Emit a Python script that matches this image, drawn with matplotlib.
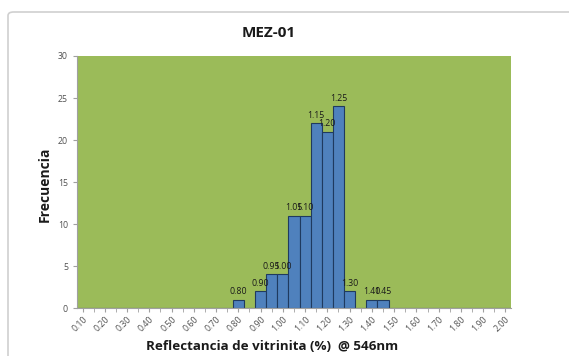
import numpy as np
import matplotlib.pyplot as plt
from matplotlib.patches import FancyBboxPatch

# reflectance classes (%), 0.10 .. 2.00 step 0.05
clases = ['%.2f' % (0.10 + 0.05 * i) for i in range(39)]
# non-zero frequencies by class
conteo = {'0.80': 1, '0.90': 2, '0.95': 4, '1.00': 4, '1.05': 11, '1.10': 11,
          '1.15': 22, '1.20': 21, '1.25': 24, '1.30': 2, '1.40': 1, '1.45': 1}
frecuencia = [conteo.get(c, 0) for c in clases]

plt.rcParams['font.family'] = ['Open Sans', 'DejaVu Sans']

fig = plt.figure(figsize=(5.69, 3.56), dpi=100)
ax = fig.add_axes([0.1353, 0.1348, 0.7627, 0.7079])

# chart frame (light grey rounded box)
marco = FancyBboxPatch((8 / 569, -0.1), 1.2, 1.1 - 12 / 356,
                       boxstyle='round,pad=0,rounding_size=0.01',
                       transform=fig.transFigure, fill=False,
                       edgecolor='#d0d0d0', linewidth=1.2)
fig.patches.append(marco)

x = np.arange(len(clases))
ax.set_facecolor('#9bbb59')
ax.bar(x, frecuencia, width=1.0, color='#4f81bd', edgecolor='#1f3a5f', linewidth=0.8)

for xi, c, f in zip(x, clases, frecuencia):
    if f > 0:
        ax.text(xi, f + 0.4, c, ha='center', va='bottom', fontsize=6.3, color='#1a1a1a')

ax.set_xlim(-0.5, len(clases) - 0.5)
ax.set_ylim(0, 30)
ax.set_yticks([0, 5, 10, 15, 20, 25, 30])
ax.set_xticks(x[::2])
ax.set_xticklabels(clases[::2], rotation=45, ha='right', rotation_mode='anchor')
ax.set_xticks(x, minor=True)
ax.tick_params(axis='x', which='both', length=3, color='#a0a0a0', labelsize=6.3,
               labelcolor='#505050', pad=2)
ax.tick_params(axis='y', length=3, color='#a0a0a0', labelsize=6.3, labelcolor='#505050')

for s in ['top', 'right']:
    ax.spines[s].set_visible(False)
ax.spines['left'].set_color('#a0a0a0')
ax.spines['bottom'].set_color('#a0a0a0')
ax.spines['left'].set_linewidth(0.8)
ax.spines['bottom'].set_linewidth(0.8)

fig.text(269 / 569, 1 - 33 / 356, 'MEZ-01', ha='center', va='center',
         fontsize=11, fontweight='bold', color='#1a1a1a')
fig.text(272 / 569, 1 - 347 / 356, 'Reflectancia de vitrinita (%)  @ 546nm',
         ha='center', va='center', fontsize=9.6, fontweight='bold', color='#1a1a1a')
fig.text(45 / 569, 1 - 184 / 356, 'Frecuencia', ha='center', va='center',
         rotation=90, fontsize=10, fontweight='bold', color='#1a1a1a')

fig.savefig('out.png', dpi=100)
